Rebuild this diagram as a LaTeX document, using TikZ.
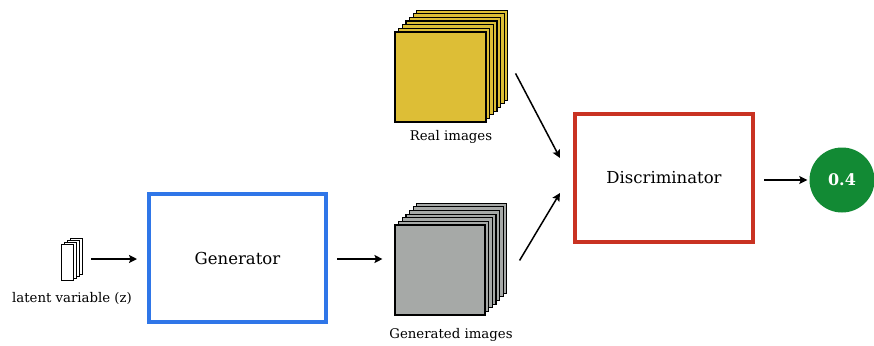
\documentclass[tikz,border=0pt]{standalone}
\usepackage{fontspec}
\setmainfont{DejaVu Serif}
\usetikzlibrary{arrows.meta,calc}
\definecolor{goldfill}{HTML}{DDBE36}
\definecolor{greyfill}{HTML}{A6A9A7}
\definecolor{genblue}{HTML}{2F76E8}
\definecolor{discred}{HTML}{C93222}
\definecolor{outgreen}{HTML}{128A34}
\tikzset{
  layer/.style={draw=black, line width=1.1pt},
  block/.style={draw, line width=4pt, fill=white, font=\fontsize{16.5}{18}\selectfont},
  caption/.style={font=\fontsize{13.3}{15}\selectfont, inner sep=0pt},
  flow/.style={-{Stealth[length=8pt,width=8pt,inset=1.5pt]}, line width=1.5pt},
}
\begin{document}
\begin{tikzpicture}[x=1pt, y=-1pt]
\useasboundingbox (0,0) rectangle (874,345);

% latent vector: a small stack of white sheets
\foreach \i in {3,2,1}
  \draw[layer, fill=white, line width=0.9pt] (61+3.3*\i,244-2*\i) rectangle ++(12,36);
\node[layer, fill=white, line width=0.9pt, minimum width=12pt, minimum height=36pt, inner sep=0pt] (lat) at (67,262) {};
\node[caption] (latlbl) at (72,298) {latent variable (z)};

% real image batch
\foreach \i in {6,5,...,1}
  \draw[layer, fill=goldfill] (395+3.65*\i,32-3.65*\i) rectangle ++(91,90);
\node[layer, fill=goldfill, minimum width=91pt, minimum height=90pt, inner sep=0pt] (real) at (440.5,77) {};
\node[caption] (reallbl) at (451,137) {Real images};

% generated image batch
\foreach \i in {6,5,...,1}
  \draw[layer, fill=greyfill] (395+3.65*\i,225-3.65*\i) rectangle ++(90,90);
\node[layer, fill=greyfill, minimum width=90pt, minimum height=90pt, inner sep=0pt] (fake) at (440,270) {};
\node[caption] (fakelbl) at (451,335) {Generated images};

% networks
\node[block, draw=genblue, minimum width=177pt, minimum height=128pt] (gen) at (237.5,258) {Generator};
\node[block, draw=discred, minimum width=178pt, minimum height=128pt] (disc) at (664,178) {Discriminator};

% output score
\node[circle, fill=outgreen, minimum size=65pt, inner sep=0pt, text=white,
      font=\fontsize{16}{18}\selectfont\bfseries] (out) at (842,180) {0.4};

% connectors
\coordinate (realtail) at ($(real.north east)+(29,42)$);
\coordinate (faketail) at ($(fake.north east)+(34,36)$);
\coordinate (disctop) at ($(disc.west)+(-13,-20)$);
\coordinate (discbot) at ($(disc.west)+(-13,15)$);
\draw[flow] ($(lat.east |- gen.west)+(18,1)$) -- ($(gen.west)+(-10,1)$);
\draw[flow] ($(gen.east)+(9,1)$) -- ($(fake.west |- gen.east)+(-12,1)$);
\draw[flow] (realtail) -- (disctop);
\draw[flow] (faketail) -- (discbot);
\draw[flow] ($(disc.east)+(9,2)$) -- ($(out.west |- disc.east)+(-2,2)$);
\end{tikzpicture}
\end{document}
